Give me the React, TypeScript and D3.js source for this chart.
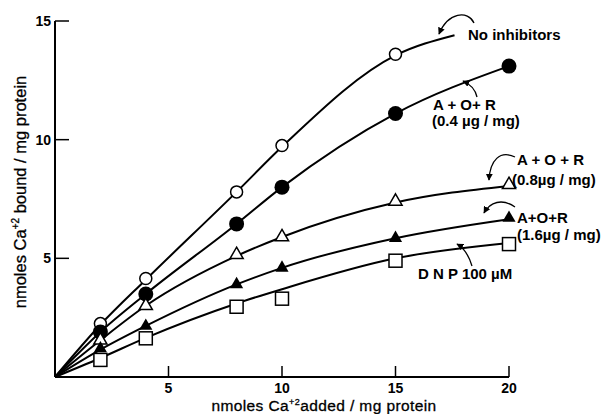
import React, { useEffect, useRef } from 'react';
import * as d3 from 'd3';

// Ca+2 added (nmoles / mg protein) at which points were measured
const xAdded = [2, 4, 8, 10, 15, 20];
const xTicks = [5, 10, 15, 20];
const yTicks = [5, 10, 15];

// measured points (Ca+2 bound, nmoles / mg protein)
const noInhibitors = [2.25, 4.15, 7.8, 9.75, 13.6];
const aor04 = [1.9, 3.5, 6.45, 8.0, 11.1, 13.1];
const aor08 = [1.55, 3.0, 5.15, 5.9, 7.4, 8.1];
const aor16 = [1.2, 2.15, 3.9, 4.6, 5.85, 6.7];
const dnp = [0.72, 1.63, 2.96, 3.3, 4.9, 5.6];

// hand-drawn fitted curves
const curveX = [0, 2, 4, 8, 10, 15, 20];
const noInhibitorsCurveX = [0, 2, 4, 8, 10, 15, 17.6];
const noInhibitorsCurve = [0, 2.2, 4.1, 7.8, 9.7, 13.55, 14.4];
const aor04Curve = [0, 1.9, 3.5, 6.45, 8.0, 11.1, 13.1];
const aor08Curve = [0, 1.55, 3.0, 5.1, 5.9, 7.35, 8.05];
const aor16Curve = [0, 1.15, 2.15, 3.9, 4.6, 5.85, 6.65];
const dnpCurve = [0, 0.8, 1.65, 3.1, 3.7, 5.0, 5.65];

const W = 610;
const H = 414;
const FONT = 'Liberation Sans, Arial, Helvetica, sans-serif';

const App = () => {
  const svgRef = useRef(null);

  useEffect(() => {
    const svg = d3.select(svgRef.current);
    svg.selectAll('*').remove();

    const x = d3.scaleLinear().domain([0, 20]).range([55, 509]);
    const y = d3.scaleLinear().domain([0, 15]).range([377, 21]);

    const defs = svg.append('defs');
    defs.append('marker')
      .attr('id', 'arrow')
      .attr('viewBox', '0 0 10 10')
      .attr('refX', 9)
      .attr('refY', 5)
      .attr('markerWidth', 7)
      .attr('markerHeight', 7)
      .attr('markerUnits', 'userSpaceOnUse')
      .attr('orient', 'auto')
      .append('path')
      .attr('d', 'M0,0 L10,5 L0,10 Z')
      .attr('fill', '#000');

    // axes
    const g = svg.append('g');
    g.append('line')
      .attr('x1', x(0)).attr('x2', x(20))
      .attr('y1', y(0)).attr('y2', y(0))
      .attr('stroke', '#000').attr('stroke-width', 2);
    g.append('line')
      .attr('x1', x(0)).attr('x2', x(0))
      .attr('y1', y(0)).attr('y2', y(15))
      .attr('stroke', '#000').attr('stroke-width', 2);

    g.selectAll('.xtick')
      .data(xTicks)
      .enter().append('line')
      .attr('x1', d => x(d)).attr('x2', d => x(d))
      .attr('y1', y(0)).attr('y2', y(0) - 11)
      .attr('stroke', '#000').attr('stroke-width', 1.5);
    g.selectAll('.xlab')
      .data(xTicks)
      .enter().append('text')
      .attr('x', d => x(d))
      .attr('y', 393)
      .attr('text-anchor', 'middle')
      .attr('font-family', FONT)
      .attr('font-weight', 'bold')
      .attr('font-size', 14)
      .text(d => d);

    g.selectAll('.ytick')
      .data(yTicks)
      .enter().append('line')
      .attr('x1', x(0)).attr('x2', x(0) + 14)
      .attr('y1', d => y(d)).attr('y2', d => y(d))
      .attr('stroke', '#000').attr('stroke-width', 1.5);
    g.selectAll('.ylab')
      .data(yTicks)
      .enter().append('text')
      .attr('x', 51)
      .attr('y', d => y(d) + 5)
      .attr('text-anchor', 'end')
      .attr('font-family', FONT)
      .attr('font-weight', 'bold')
      .attr('font-size', 14)
      .text(d => d);

    // axis titles
    const yt = svg.append('text')
      .attr('transform', `translate(26,192) rotate(-90)`)
      .attr('text-anchor', 'middle')
      .attr('font-family', FONT)
      .attr('font-size', 16.5)
      .attr('stroke', '#000').attr('stroke-width', 0.3);
    yt.append('tspan').text('nmoles Ca');
    yt.append('tspan').attr('font-size', 10).attr('dy', -7).text('+2');
    yt.append('tspan').attr('dy', 7).text(' bound / mg protein');

    const xt = svg.append('text')
      .attr('x', 324).attr('y', 411)
      .attr('text-anchor', 'middle')
      .attr('font-family', FONT)
      .attr('font-size', 15.5)
      .attr('letter-spacing', 0.4)
      .attr('stroke', '#000').attr('stroke-width', 0.3);
    xt.append('tspan').text('nmoles Ca');
    xt.append('tspan').attr('font-size', 9).attr('dy', -6).text('+2');
    xt.append('tspan').attr('dy', 6).text('added / mg protein');

    // curves
    const line = d3.line()
      .x(d => x(d[0]))
      .y(d => y(d[1]))
      .curve(d3.curveMonotoneX);

    const curves = [
      d3.zip(noInhibitorsCurveX, noInhibitorsCurve),
      d3.zip(curveX, aor04Curve),
      d3.zip(curveX, aor08Curve),
      d3.zip(curveX, aor16Curve),
      d3.zip(curveX, dnpCurve),
    ];
    svg.append('g').selectAll('path')
      .data(curves)
      .enter().append('path')
      .attr('d', d => line(d))
      .attr('fill', 'none')
      .attr('stroke', '#000')
      .attr('stroke-width', 2);

    // markers
    const pts = svg.append('g');
    pts.selectAll('.oc')
      .data(d3.zip(xAdded, noInhibitors))
      .enter().append('circle')
      .attr('cx', d => x(d[0])).attr('cy', d => y(d[1]))
      .attr('r', 6)
      .attr('fill', '#fff').attr('stroke', '#000').attr('stroke-width', 1.5);
    pts.selectAll('.fc')
      .data(d3.zip(xAdded, aor04))
      .enter().append('circle')
      .attr('cx', d => x(d[0])).attr('cy', d => y(d[1]))
      .attr('r', 7.5)
      .attr('fill', '#000');
    const tri = d3.symbol().type(d3.symbolTriangle).size(75);
    pts.selectAll('.ot')
      .data(d3.zip(xAdded, aor08))
      .enter().append('path')
      .attr('d', tri)
      .attr('transform', d => `translate(${x(d[0])},${y(d[1])})`)
      .attr('fill', '#fff').attr('stroke', '#000').attr('stroke-width', 1.5);
    pts.selectAll('.ft')
      .data(d3.zip(xAdded, aor16))
      .enter().append('path')
      .attr('d', tri)
      .attr('transform', d => `translate(${x(d[0])},${y(d[1])})`)
      .attr('fill', '#000');
    pts.selectAll('.os')
      .data(d3.zip(xAdded, dnp))
      .enter().append('rect')
      .attr('x', d => x(d[0]) - 6.5).attr('y', d => y(d[1]) - 6.5)
      .attr('width', 13).attr('height', 13)
      .attr('fill', '#fff').attr('stroke', '#000').attr('stroke-width', 1.5);

    // labels and arrows
    const ann = svg.append('g')
      .attr('font-family', FONT)
      .attr('font-weight', 'bold')
      .attr('font-size', 15);
    const label = (tx, ty, txt) => ann.append('text').attr('x', tx).attr('y', ty).text(txt);
    label(468, 40, 'No inhibitors');
    label(433, 110, 'A +  O+ R');
    label(432, 126, '(0.4 \u00b5g / mg)');
    label(517, 165, 'A + O + R');
    label(512, 185, '(0.8\u00b5g / mg)');
    label(517, 223, 'A+O+R');
    label(517, 240, '(1.6\u00b5g / mg)');
    label(418, 279, 'D N P  100 \u00b5M');

    const arrows = [
      'M474,23 C468,10 448,12 439,34',
      'M477,97 C475,88 470,84 463,81',
      'M515,157 C500,150 490,160 489,180',
      'M515,207 C502,198 490,202 484,213',
      'M472,266 C469,256 464,248 457,244',
    ];
    svg.append('g').selectAll('path')
      .data(arrows)
      .enter().append('path')
      .attr('d', d => d)
      .attr('fill', 'none')
      .attr('stroke', '#000')
      .attr('stroke-width', 1.3)
      .attr('marker-end', 'url(#arrow)');
  }, []);

  return (
    <svg
      ref={svgRef}
      width={W}
      height={H}
      style={{ position: 'absolute', left: 0, top: 0, background: '#fff' }}
    />
  );
};

export default App;
